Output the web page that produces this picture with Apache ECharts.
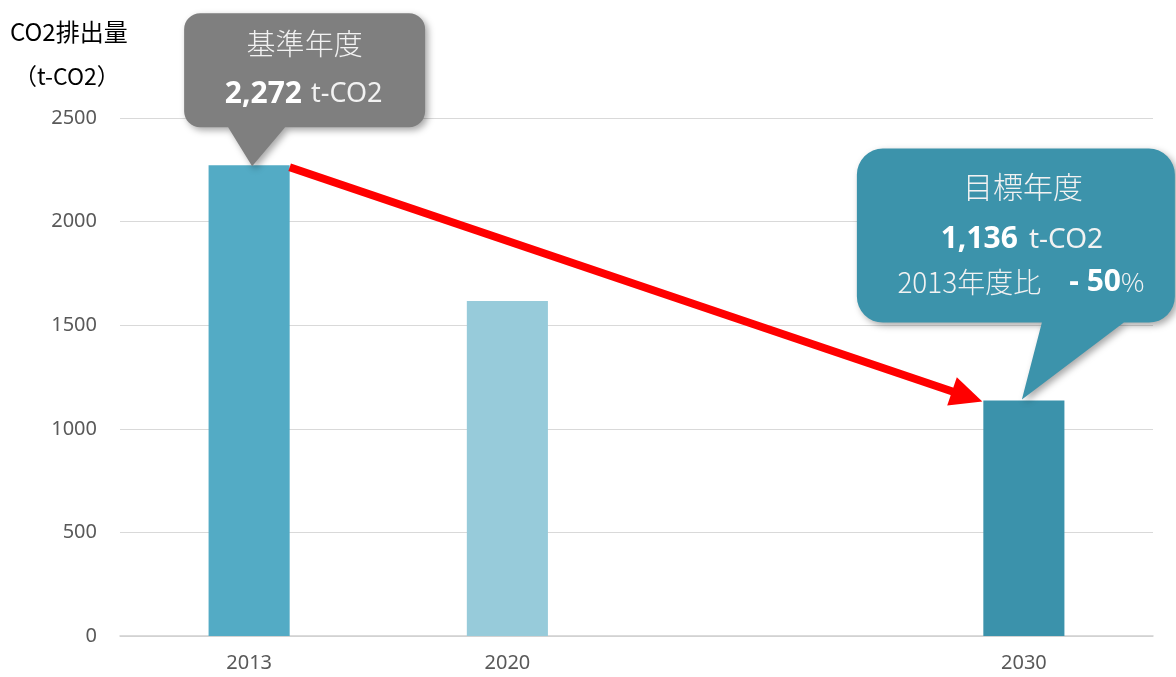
<!DOCTYPE html>
<html>
<head>
<meta charset="utf-8">
<script src="https://cdn.jsdelivr.net/npm/echarts@6/dist/echarts.min.js"></script>
<style>
  html, body { margin: 0; padding: 0; background: #fff; }
  #chart { width: 1176px; height: 677px; }
</style>
</head>
<body>
<div id="chart"></div>
<script>
// Emission data (t-CO2); the blank category keeps 2030 spaced further out
const categories = ['2013', '2020', '', '2030'];
const emissions = [2272, 1617, null, 1136];
const barColors = ['#53abc5', '#97cbda', '#3b92ab', '#3b92ab'];
const yTicks = { min: 0, max: 2500, interval: 500 };
const axisTitle = ['CO2排出量', '（t-CO2）'];
const baseIdx = 0, targetIdx = 3;
const reductionPct = 50;

const CJK = '"Noto Sans CJK JP", "Noto Sans", sans-serif';
const LATIN = '"Noto Sans", sans-serif';
const fmt = v => v.toLocaleString('en-US');

const chart = echarts.init(document.getElementById('chart'));

chart.setOption({
  animation: false,
  grid: { left: 120, right: 23, top: 118, bottom: 41 },
  xAxis: {
    type: 'category',
    data: categories,
    axisTick: { show: false },
    axisLine: { lineStyle: { color: '#d0d0d0', width: 1.5 } },
    axisLabel: { color: '#595959', fontSize: 20, margin: 17, fontFamily: LATIN }
  },
  yAxis: {
    type: 'value',
    min: yTicks.min, max: yTicks.max, interval: yTicks.interval,
    axisLine: { show: false },
    axisTick: { show: false },
    splitLine: { lineStyle: { color: '#d9d9d9', width: 1.2 } },
    axisLabel: { color: '#595959', fontSize: 20, margin: 23, fontFamily: LATIN, formatter: v => String(v) }
  },
  series: [{
    type: 'bar',
    barWidth: '31.4%',
    data: emissions.map((v, i) => ({ value: v, itemStyle: { color: barColors[i] } }))
  }]
});

// outline of a rounded box with a pointer dropping from its bottom edge
function calloutPoints(x0, y0, x1, y1, r, baseL, baseR, tip) {
  const pts = [];
  const arc = (cx, cy, a0, a1) => {
    const n = 8;
    for (let i = 0; i <= n; i++) {
      const a = a0 + (a1 - a0) * i / n;
      pts.push([cx + r * Math.cos(a), cy + r * Math.sin(a)]);
    }
  };
  const P = Math.PI;
  arc(x0 + r, y0 + r, P, 1.5 * P);        // top-left
  arc(x1 - r, y0 + r, 1.5 * P, 2 * P);    // top-right
  arc(x1 - r, y1 - r, 0, 0.5 * P);        // bottom-right
  pts.push([baseR, y1], tip, [baseL, y1]);
  arc(x0 + r, y1 - r, 0.5 * P, P);        // bottom-left
  return pts;
}

function richStyle(size, weight, family, color) {
  return { fontSize: size, fontWeight: weight, fontFamily: family, fill: color };
}

function drawOverlay() {
  const p0 = chart.convertToPixel({ seriesIndex: 0 }, [baseIdx, emissions[baseIdx]]);
  const p1 = chart.convertToPixel({ seriesIndex: 0 }, [targetIdx, emissions[targetIdx]]);
  const c1 = chart.convertToPixel({ seriesIndex: 0 }, [1, 0]);
  const c0 = chart.convertToPixel({ seriesIndex: 0 }, [0, 0]);
  const halfBar = (c1[0] - c0[0]) * 0.314 / 2;

  // red arrow from the base-year bar to the target-year bar
  const sx = p0[0] + halfBar, sy = p0[1] + 2;
  const ex = p1[0] - halfBar - 1, ey = p1[1] + 1;
  const ang = Math.atan2(ey - sy, ex - sx);
  const headLen = 32, headW = 15;
  const bx = ex - headLen * Math.cos(ang), by = ey - headLen * Math.sin(ang);
  const nx = -Math.sin(ang), ny = Math.cos(ang);

  const shadow = { shadowBlur: 7, shadowOffsetX: 3, shadowOffsetY: 3, shadowColor: 'rgba(0,0,0,0.35)' };

  // base-year callout
  const gTip = [p0[0] + 3, p0[1] + 1];
  const g = { x0: gTip[0] - 68, x1: gTip[0] + 173, y0: gTip[1] - 153, y1: gTip[1] - 39 };
  // target-year callout
  const tTip = [p1[0] - 2, p1[1] - 1];
  const t = { x0: tTip[0] - 165, x1: tTip[0] + 153, y0: tTip[1] - 251, y1: tTip[1] - 77 };

  chart.setOption({
    graphic: [
      {
        type: 'line', z: 10,
        shape: { x1: sx, y1: sy, x2: bx + 2 * Math.cos(ang), y2: by + 2 * Math.sin(ang) },
        style: { stroke: '#ff0000', lineWidth: 8 }
      },
      {
        type: 'polygon', z: 10,
        shape: { points: [[ex, ey], [bx + nx * headW, by + ny * headW], [bx - nx * headW, by - ny * headW]] },
        style: { fill: '#ff0000' }
      },
      {
        type: 'polygon', z: 20,
        shape: { points: calloutPoints(g.x0, g.y0, g.x1, g.y1, 16, gTip[0] - 24, gTip[0] + 33, gTip) },
        style: Object.assign({ fill: '#7f7f7f' }, shadow)
      },
      {
        type: 'text', z: 21,
        x: (g.x0 + g.x1) / 2, y: g.y0 + 31,
        style: { text: '基準年度', fill: '#f2f2f2', font: '300 29px ' + CJK, align: 'center', verticalAlign: 'middle' }
      },
      {
        type: 'text', z: 21,
        x: (g.x0 + g.x1) / 2 - 1, y: g.y0 + 81,
        style: {
          text: '{b|' + fmt(emissions[baseIdx]) + '}{s| }{u|t-CO2}',
          align: 'center', verticalAlign: 'middle',
          rich: {
            b: richStyle(30, 'bold', LATIN, '#ffffff'),
            s: { width: 9, fontSize: 10 },
            u: richStyle(27, 'normal', LATIN, '#f2f2f2')
          }
        }
      },
      {
        type: 'polygon', z: 20,
        shape: { points: calloutPoints(t.x0, t.y0, t.x1, t.y1, 26, tTip[0] + 20, tTip[0] + 102, tTip) },
        style: Object.assign({ fill: '#3c93ab' }, shadow)
      },
      {
        type: 'text', z: 21,
        x: tTip[0] + 1, y: t.y0 + 38,
        style: { text: '目標年度', fill: '#f2f2f2', font: '300 30px ' + CJK, align: 'center', verticalAlign: 'middle' }
      },
      {
        type: 'text', z: 21,
        x: tTip[0], y: t.y0 + 91,
        style: {
          text: '{b|' + fmt(emissions[targetIdx]) + '}{s| }{u|t-CO2}',
          align: 'center', verticalAlign: 'middle',
          rich: {
            b: richStyle(30, 'bold', LATIN, '#ffffff'),
            s: { width: 11, fontSize: 10 },
            u: richStyle(28, 'normal', LATIN, '#f2f2f2')
          }
        }
      },
      {
        type: 'text', z: 21,
        x: tTip[0] - 1, y: t.y0 + 134,
        style: {
          text: '{n|' + categories[baseIdx] + '年度比}{g| }{b|- ' + reductionPct + '}{u|%}',
          align: 'center', verticalAlign: 'middle',
          rich: {
            n: richStyle(28, 300, CJK, '#f2f2f2'),
            g: { width: 28, fontSize: 10 },
            b: richStyle(30, 'bold', LATIN, '#ffffff'),
            u: richStyle(26, 300, CJK, '#f2f2f2')
          }
        }
      },
      {
        type: 'text', z: 5, x: 10, y: 32,
        style: { text: axisTitle[0], fill: '#000', font: '24px ' + CJK, verticalAlign: 'middle' }
      },
      {
        type: 'text', z: 5, x: 14, y: 76,
        style: { text: axisTitle[1], fill: '#000', font: '23px ' + CJK, verticalAlign: 'middle' }
      }
    ]
  });
}

drawOverlay();
</script>
</body>
</html>
